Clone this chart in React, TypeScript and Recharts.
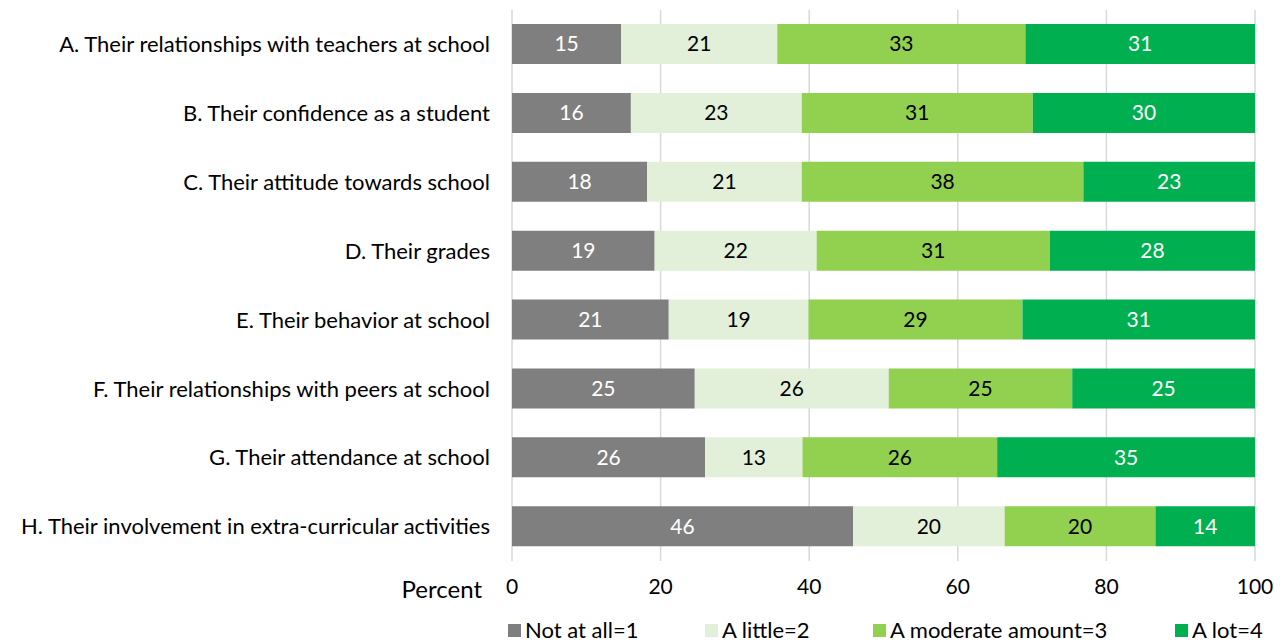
import React from 'react';
import {
  BarChart,
  Bar,
  XAxis,
  YAxis,
  CartesianGrid,
  Legend,
  LabelList,
  Label
} from 'recharts';

const categories = [
  'A. Their relationships with teachers at school',
  'B. Their confidence as a student',
  'C. Their attitude towards school',
  'D. Their grades',
  'E. Their behavior at school',
  'F. Their relationships with peers at school',
  'G. Their attendance at school',
  'H. Their involvement in extra-curricular activities'
];

const notAtAll = [14.7, 16.0, 18.2, 19.2, 21.1, 24.6, 26.0, 45.9];
const aLittle = [21.0, 23.0, 20.8, 21.8, 18.8, 26.1, 13.1, 20.4];
const moderate = [33.4, 31.1, 37.9, 31.4, 28.8, 24.7, 26.2, 20.3];
const aLot = [30.9, 29.9, 23.1, 27.6, 31.3, 24.6, 34.7, 13.5];

const xTicks = [0, 20, 40, 60, 80, 100];

const seriesNames = ['Not at all=1', 'A little=2', 'A moderate amount=3', 'A lot=4'];

// Excel-ish palette
const COLORS = ['#7f7f7f', '#e2f0d9', '#92d050', '#00b050'];
const LABEL_COLORS = ['#ffffff', '#000000', '#000000', '#ffffff'];
const KEYS = ['notAtAll', 'aLittle', 'moderate', 'aLot'];

const data = categories.map((name, i) => ({
  name,
  notAtAll: notAtAll[i],
  aLittle: aLittle[i],
  moderate: moderate[i],
  aLot: aLot[i]
}));

const FONT = 'Lato, "Open Sans", sans-serif';

const CategoryTick = ({ x, y, payload }: any) => (
  <text x={x} y={y} dy="0.35em" textAnchor="end" fontSize={22} fill="#000">
    {payload.value}
  </text>
);

const ValueTick = ({ x, y, payload }: any) => (
  <text x={x} y={y} dy="0.71em" textAnchor="middle" fontSize={21} fill="#000">
    {payload.value}
  </text>
);

// legend item left edges, roughly where Excel put them
const LEGEND_LEFT = [508, 705, 873, 1175];

const LegendContent = () => (
  <div style={{ position: 'relative', width: 1285, height: 31 }}>
    {seriesNames.map((name, i) => (
      <div
        key={name}
        style={{
          position: 'absolute',
          left: LEGEND_LEFT[i],
          top: 5,
          display: 'flex',
          alignItems: 'center',
          fontSize: 22,
          lineHeight: '24px',
          color: '#000',
          whiteSpace: 'nowrap'
        }}
      >
        <span
          style={{
            display: 'inline-block',
            width: 13,
            height: 13,
            background: COLORS[i],
            marginRight: 4
          }}
        />
        {name}
      </div>
    ))}
  </div>
);

const PercentLabel = ({ viewBox }: any) => (
  <text
    x={viewBox.x - 30}
    y={viewBox.y + 29}
    dy="0.35em"
    textAnchor="end"
    fontSize={24}
    fill="#000"
  >
    Percent
  </text>
);

const App = () => {
  return (
    <div style={{ position: 'absolute', left: 0, top: 0, fontFamily: FONT }}>
      <BarChart
        width={1285}
        height={644}
        data={data}
        layout="vertical"
        margin={{ top: 10, right: 30, left: 0, bottom: 0 }}
        barSize={40}
      >
        <CartesianGrid horizontal={false} stroke="#d9d9d9" strokeWidth={1.5} />
        <XAxis
          type="number"
          domain={[0, 100]}
          ticks={xTicks}
          allowDataOverflow
          axisLine={false}
          tickLine={false}
          tickSize={0}
          tickMargin={18}
          height={52}
          tick={<ValueTick />}
        >
          <Label content={<PercentLabel />} />
        </XAxis>
        <YAxis
          type="category"
          dataKey="name"
          width={512}
          axisLine={false}
          tickLine={false}
          tickSize={0}
          tickMargin={22}
          interval={0}
          tick={<CategoryTick />}
        />
        <Legend verticalAlign="bottom" content={<LegendContent />} wrapperStyle={{ left: 0, bottom: 0, width: 1285, height: 31 }} />
        {KEYS.map((key, i) => (
          <Bar key={key} dataKey={key} name={seriesNames[i]} stackId="a" fill={COLORS[i]} isAnimationActive={false}>
            <LabelList
              dataKey={key}
              position="center"
              fill={LABEL_COLORS[i]}
              fontSize={21}
              formatter={(v: any) => Math.round(Number(v))}
            />
          </Bar>
        ))}
      </BarChart>
    </div>
  );
};

export default App;
